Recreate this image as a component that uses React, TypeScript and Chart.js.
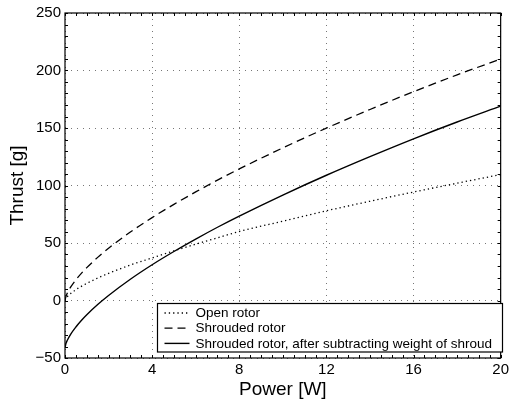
import React, { useEffect, useRef } from "react";
import { Chart, registerables } from "chart.js";

Chart.register(...registerables);

const power = [0, 0.05, 0.1, 0.25, 0.5, 0.75, 1, 1.5, 2, 3, 4, 5, 6, 7, 8, 10, 12, 14, 16, 18, 20];
const openRotor = [0, 2.0, 3.2, 5.9, 9.4, 12.3, 14.9, 19.5, 23.6, 30.9, 37.0, 43.2, 49, 54.5, 60, 69, 78, 86.3, 94.3, 102, 109.5];
const shroudedRotor = [0, 3.9, 6.2, 11.4, 18.0, 23.6, 28.6, 37.5, 45.4, 59.5, 72.1, 83.6, 94.4, 104.7, 114.4, 132.7, 149.9, 166.1, 181.6, 196.2, 210];
const shroudedNet = [-41, -37.1, -34.8, -29.6, -23, -17.4, -12.4, -3.5, 4.4, 18.5, 31.1, 42.6, 53.4, 63.7, 73.4, 91.7, 108.9, 125.1, 140.6, 155.2, 169];
const seriesLabels = ["Open rotor", "Shrouded rotor", "Shrouded rotor, after subtracting weight of shroud"];
const xTickStep = 4;
const yTickStep = 50;

const FONT = "'Liberation Sans', Arial, Helvetica, sans-serif";

const toPoints = (ys: number[]) => power.map((x, i) => ({ x, y: ys[i] }));

const framePlugin = {
  id: "frameTicks",
  afterDraw(chart: any) {
    const { ctx, chartArea } = chart;
    const { left, right, top, bottom } = chartArea;
    const xs = chart.scales.x;
    const ys = chart.scales.y;
    ctx.save();
    ctx.strokeStyle = "#000";
    ctx.lineWidth = 1;
    ctx.setLineDash([]);
    ctx.beginPath();
    for (let v = xs.min; v <= xs.max + 1e-9; v += 0.5) {
      const px = Math.round(xs.getPixelForValue(v)) + 0.5;
      ctx.moveTo(px, bottom);
      ctx.lineTo(px, bottom - 3);
      ctx.moveTo(px, top);
      ctx.lineTo(px, top + 3);
    }
    for (let v = ys.min; v <= ys.max + 1e-9; v += 10) {
      const py = Math.round(ys.getPixelForValue(v)) + 0.5;
      ctx.moveTo(left, py);
      ctx.lineTo(left + 3, py);
      ctx.moveTo(right, py);
      ctx.lineTo(right - 3, py);
    }
    ctx.stroke();
    ctx.lineWidth = 1.2;
    ctx.strokeRect(left, top, right - left, bottom - top);

    // legend
    const bx = left + 92.5;
    const by = top + 290.5;
    const bw = 345;
    const bh = 48.5;
    ctx.fillStyle = "#fff";
    ctx.fillRect(bx, by, bw, bh);
    ctx.lineWidth = 1.2;
    ctx.strokeRect(bx, by, bw, bh);
    ctx.font = `13.5px ${FONT}`;
    ctx.textBaseline = "middle";
    ctx.textAlign = "left";
    chart.data.datasets.forEach((ds: any, i: number) => {
      const y = by + 9.5 + i * 15.2;
      ctx.beginPath();
      ctx.strokeStyle = ds.borderColor;
      ctx.lineWidth = ds.borderWidth;
      ctx.setLineDash(ds.borderDash || []);
      ctx.moveTo(bx + 7, y);
      ctx.lineTo(bx + 32, y);
      ctx.stroke();
      ctx.setLineDash([]);
      ctx.fillStyle = "#000";
      ctx.fillText(ds.label, bx + 38, y + 0.5);
    });
    ctx.restore();
  },
};

export default function App() {
  const ref = useRef<HTMLCanvasElement | null>(null);
  useEffect(() => {
    document.body.style.margin = "0";
    const canvas = ref.current!;
    const chart = new Chart(canvas, {
      type: "line",
      data: {
        datasets: [
          {
            label: seriesLabels[0],
            data: toPoints(openRotor),
            borderColor: "#000",
            borderWidth: 1.3,
            borderDash: [1.3, 3],
            pointRadius: 0,
            cubicInterpolationMode: "monotone",
          },
          {
            label: seriesLabels[1],
            data: toPoints(shroudedRotor),
            borderColor: "#000",
            borderWidth: 1.3,
            borderDash: [8, 5],
            pointRadius: 0,
            cubicInterpolationMode: "monotone",
          },
          {
            label: seriesLabels[2],
            data: toPoints(shroudedNet),
            borderColor: "#000",
            borderWidth: 1.4,
            pointRadius: 0,
            cubicInterpolationMode: "monotone",
          },
        ],
      },
      options: {
        responsive: false,
        animation: false,
        layout: { padding: { top: 12, right: 7, left: 0, bottom: 0 } },
        plugins: { legend: { display: false }, tooltip: { enabled: false } },
        scales: {
          x: {
            type: "linear",
            min: 0,
            max: 20,
            afterFit: (s: any) => {
              s.height = 50;
            },
            ticks: { stepSize: xTickStep, color: "#000", font: { family: FONT, size: 15 }, padding: 3, maxRotation: 0 },
            grid: { drawTicks: false, color: "#777", lineWidth: 1 },
            border: { display: false, dash: [1, 5] },
            title: { display: true, text: "Power [W]", color: "#000", font: { family: FONT, size: 19 }, padding: { top: 0, bottom: 7 } },
          },
          y: {
            type: "linear",
            min: -50,
            max: 250,
            afterFit: (s: any) => {
              s.width = 65;
            },
            ticks: {
              stepSize: yTickStep,
              color: "#000",
              font: { family: FONT, size: 15 },
              padding: 4,
              callback: (v: any) => String(v).replace("-", "\u2212"),
            },
            grid: { drawTicks: false, color: "#777", lineWidth: 1 },
            border: { display: false, dash: [1, 5] },
            title: { display: true, text: "Thrust [g]", color: "#000", font: { family: FONT, size: 19 }, padding: { top: 6, bottom: 0 } },
          },
        },
      },
      plugins: [framePlugin],
    });
    return () => chart.destroy();
  }, []);
  return <canvas ref={ref} width={512} height={408} style={{ display: "block" }} />;
}
